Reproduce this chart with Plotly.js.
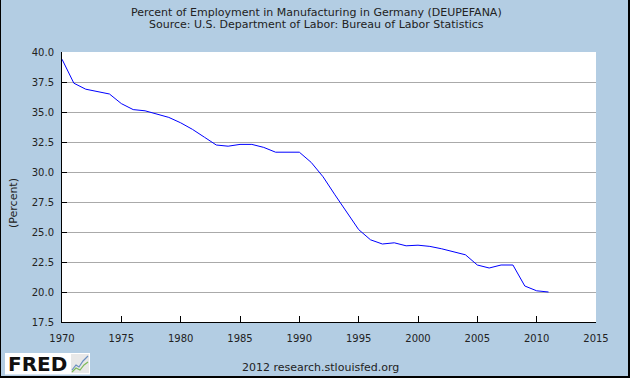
<!DOCTYPE html>
<html>
<head>
<meta charset="utf-8">
<script src="https://cdn.plot.ly/plotly-3.0.1.min.js"></script>
<style>
html,body{margin:0;padding:0;background:#000;}
#chart{width:627px;height:376px;border-left:1px solid #000;border-right:2px solid #000;border-bottom:2px solid #000;background:#B3CDE3;}
</style>
</head>
<body>
<div id="chart"></div>
<script>
const years = [1970,1971,1972,1973,1974,1975,1976,1977,1978,1979,1980,1981,1982,1983,1984,1985,1986,1987,1988,1989,1990,1991,1992,1993,1994,1995,1996,1997,1998,1999,2000,2001,2002,2003,2004,2005,2006,2007,2008,2009,2010,2011];
const percent = [39.4,37.4,36.9,36.7,36.5,35.7,35.2,35.1,34.8,34.55,34.1,33.55,32.9,32.25,32.15,32.3,32.3,32.05,31.65,31.65,31.65,30.8,29.6,28.1,26.6,25.2,24.35,24.0,24.1,23.85,23.9,23.8,23.6,23.35,23.1,22.25,22.0,22.25,22.25,20.5,20.1,20.0];
const xTicks = [1970,1975,1980,1985,1990,1995,2000,2005,2010,2015];
const yTicks = [17.5,20,22.5,25,27.5,30,32.5,35,37.5,40];
const titleLines = ["Percent of Employment in Manufacturing in Germany (DEUPEFANA)","Source: U.S. Department of Labor: Bureau of Labor Statistics"];

const W = 627, H = 376, L = 61, R = 32, T = 52, B = 54;
const pw = W - L - R, ph = H - T - B;
const px = x => (x - 1 - L) / pw;      // image x -> paper
const py = y => (H - B - y) / ph;      // image y -> paper

const font = {family: "DejaVu Sans", size: 10, color: "#222"};

const trace = {x: years, y: percent, type: "scatter", mode: "lines",
  line: {color: "#0000FF", width: 1}, hoverinfo: "skip"};

const layout = {
  width: W, height: H,
  margin: {l: L, r: R, t: T, b: B, pad: 0},
  paper_bgcolor: "#B3CDE3", plot_bgcolor: "#FFFFFF",
  showlegend: false, font: font,
  xaxis: {range: [1970, 2015], tickvals: xTicks, ticktext: xTicks.map(String),
    ticks: "inside", ticklen: 6, tickcolor: "#000", tickwidth: 1, ticklabelstandoff: 7,
    showline: true, linecolor: "#000", linewidth: 1, showgrid: false, zeroline: false,
    tickfont: font, fixedrange: true},
  yaxis: {range: [17.5, 40], tickvals: yTicks, ticktext: yTicks.map(v => v.toFixed(1)),
    ticks: "inside", ticklen: 5, tickcolor: "#000", tickwidth: 1, ticklabelstandoff: 5,
    showline: true, linecolor: "#000", linewidth: 1, showgrid: true, gridcolor: "#AAAAAA", gridwidth: 1,
    zeroline: false, tickfont: font, fixedrange: true},
  annotations: [
    {text: titleLines[0], xref: "paper", yref: "paper", x: px(316), y: py(12), showarrow: false,
      font: {family: "DejaVu Sans", size: 11, color: "#222"}, xanchor: "center", yanchor: "middle"},
    {text: titleLines[1], xref: "paper", yref: "paper", x: px(316), y: py(25), showarrow: false,
      font: {family: "DejaVu Sans", size: 11, color: "#222"}, xanchor: "center", yanchor: "middle"},
    {text: "(Percent)", xref: "paper", yref: "paper", x: px(13), y: py(203), showarrow: false,
      textangle: -90, font: {family: "DejaVu Sans", size: 11, color: "#222"}, xanchor: "center", yanchor: "middle"},
    {text: "2012 research.stlouisfed.org", xref: "paper", yref: "paper", x: px(320), y: py(367), showarrow: false,
      font: {family: "DejaVu Sans", size: 11, color: "#222"}, xanchor: "center", yanchor: "middle"},
    {text: "<b>FRED</b>", xref: "paper", yref: "paper", x: px(37), y: py(363.5), showarrow: false,
      font: {family: "DejaVu Sans", size: 20, color: "#111"}, xanchor: "center", yanchor: "middle"}
  ],
  shapes: [
    {type: "rect", xref: "paper", yref: "paper", x0: px(5), x1: px(90), y0: py(353), y1: py(374.5),
      fillcolor: "#FFFFFF", line: {width: 0}, layer: "below"},
    {type: "rect", xref: "paper", yref: "paper", x0: px(71), x1: px(89), y0: py(354), y1: py(373),
      fillcolor: "#E8E8E8", line: {width: 0}},
    {type: "path", xref: "paper", yref: "paper",
      path: `M ${px(72)} ${py(370)} L ${px(76)} ${py(365)} L ${px(79)} ${py(367)} L ${px(83)} ${py(361)} L ${px(88)} ${py(356)}`,
      line: {color: "#6A8FC0", width: 1.2}},
    {type: "path", xref: "paper", yref: "paper",
      path: `M ${px(72)} ${py(372)} L ${px(76)} ${py(368)} L ${px(80)} ${py(370)} L ${px(84)} ${py(365)} L ${px(88)} ${py(362)}`,
      line: {color: "#7DBB5A", width: 1.2}}
  ]
};

Plotly.newPlot("chart", [trace], layout, {displayModeBar: false, staticPlot: true});
</script>
</body>
</html>
